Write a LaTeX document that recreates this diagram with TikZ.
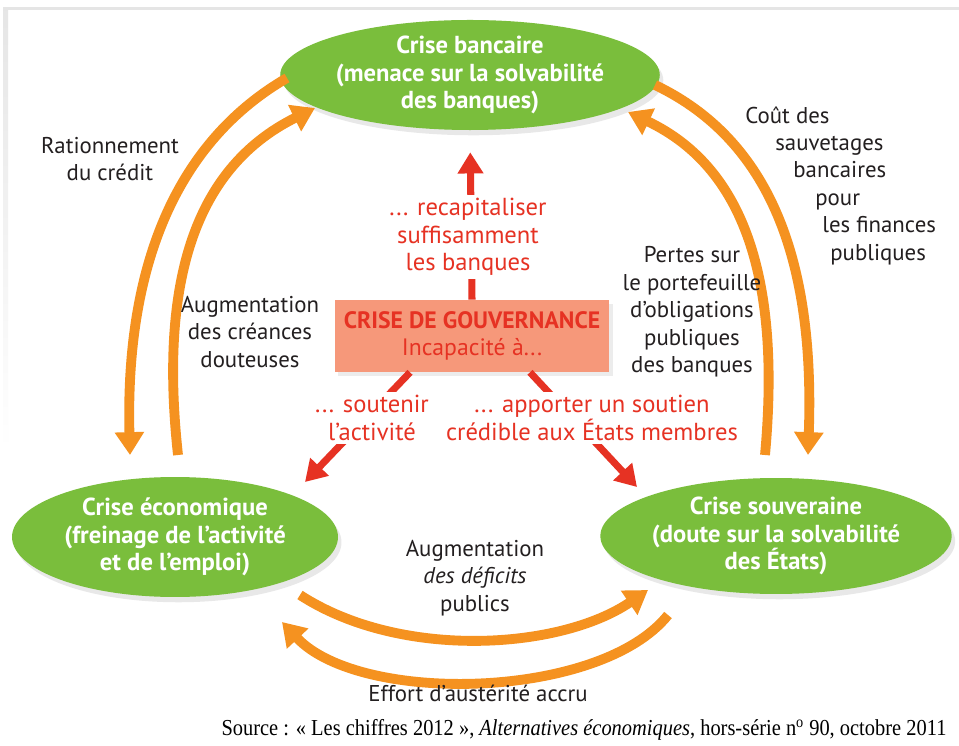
\documentclass[tikz,border=0pt]{standalone}
\usepackage{fontspec}
\setmainfont{PT Sans}
\newfontfamily\sourcefont{Liberation Serif}
\usetikzlibrary{arrows.meta,shapes.geometric,shadows,positioning}

\definecolor{vertcrise}{RGB}{122,190,60}
\definecolor{orangeflux}{RGB}{245,146,32}
\definecolor{rougelien}{RGB}{230,50,35}
\definecolor{saumon}{RGB}{246,152,122}
\definecolor{texte}{RGB}{35,31,32}

\tikzset{
  crise/.style={ellipse, fill=vertcrise, text=white, align=center, inner sep=0pt,
    drop shadow={opacity=0.18, shadow xshift=0.4ex, shadow yshift=-0.6ex},
    font=\bfseries\fontsize{14}{15.6}\selectfont},
  flux/.style={draw=orangeflux, line width=5.6pt, -{Triangle[width=16pt,length=13pt]}},
  lien/.style={draw=rougelien, line width=4pt, -{Triangle[width=14pt,length=12pt]}},
  etiq/.style={text=texte, align=center, font=\fontsize{13}{15.6}\selectfont},
  etiqrouge/.style={text=rougelien, align=center, fill=white, inner sep=2pt,
    font=\fontsize{14}{15.6}\selectfont},
}

\begin{document}
\begin{tikzpicture}[x=0.02cm, y=-0.02cm]
  \useasboundingbox (0,0) rectangle (959,746);
  \fill[white] (0,0) rectangle (959,746);
  % cadre estompe
  \fill[black!10] (3,7) rectangle (959,10);
  \shade[top color=black!10, bottom color=white] (3,10) rectangle (8,450);
  %
  % les trois crises
  \node[crise, minimum width=6.48cm, minimum height=2.12cm] (banc) at (470,75)
    {Crise bancaire\\(menace sur la solvabilité\\des banques)};
  \node[crise, minimum width=6.52cm, minimum height=2.4cm] (eco) at (175,537)
    {Crise économique\\(freinage de l'activité\\et de l'emploi)};
  \node[crise, minimum width=6.66cm, minimum height=2.32cm] (souv) at (776,536)
    {Crise souveraine\\(doute sur la solvabilité\\des États)};
  %
  % crise de gouvernance
  \node[fill=saumon, text=rougelien, minimum width=5.5cm, minimum height=1.44cm,
    drop shadow={opacity=0.15, shadow xshift=0.4ex, shadow yshift=-0.5ex},
    align=center, inner sep=0pt, font=\fontsize{13.5}{15.6}\selectfont] (gouv) at (472,336)
    {\textbf{CRISE DE GOUVERNANCE}\\Incapacité à...};
  \coordinate (pointe-eco) at (305,482);
  \coordinate (pointe-souv) at (637,487);
  \draw[lien, shorten >=0.44cm] (gouv.north) -- (banc.south);
  \draw[lien] ([xshift=-1.24cm]gouv.south) -- (pointe-eco);
  \draw[lien] ([xshift=1.16cm]gouv.south) -- (pointe-souv);
  \node[etiqrouge] (recap) at (468,237) {... recapitaliser\\suffisamment\\les banques};
  \node[etiqrouge] (soutenir) at (372,418) {... soutenir\\l'activité};
  \node[etiqrouge] (apporter) at (592,418) {... apporter un soutien\\crédible aux États membres};
  %
  % boucles banques / economie
  \coordinate (rat-dep) at (287,78);
  \coordinate (rat-arr) at (130,455);
  \coordinate (cre-dep) at (178,455);
  \coordinate (cre-arr) at (315,108);
  \draw[flux] (rat-dep) .. controls (180,140) and (125,260) .. (rat-arr);
  \draw[flux] (cre-dep) .. controls (160,290) and (190,170) .. (cre-arr);
  \node[etiq] (rationnement) at (110,159) {Rationnement\\du crédit};
  \node[etiq] (creances) at (250,332) {Augmentation\\des créances\\douteuses};
  %
  % boucles banques / Etats
  \coordinate (cout-dep) at (655,85);
  \coordinate (cout-arr) at (808,455);
  \coordinate (pert-dep) at (765,455);
  \coordinate (pert-arr) at (628,112);
  \draw[flux] (cout-dep) .. controls (770,140) and (815,260) .. (cout-arr);
  \draw[flux] (pert-dep) .. controls (780,290) and (750,170) .. (pert-arr);
  \node[etiq, align=left, anchor=north west, inner sep=0pt] (cout) at (745,106)
    {Coût des\\\hspace*{0.6cm}sauvetages\\\hspace*{0.96cm}bancaires\\\hspace*{1.4cm}pour\\
     \hspace*{1.54cm}les finances\\\hspace*{1.7cm}publiques};
  \node[etiq] (pertes) at (692,312)
    {Pertes sur\\le portefeuille\\d'obligations\\publiques\\des banques};
  %
  % boucles economie / Etats
  \coordinate (def-dep) at (300,595);
  \coordinate (def-arr) at (648,590);
  \coordinate (aus-dep) at (668,615);
  \coordinate (aus-arr) at (282,622);
  \draw[flux] (def-dep) .. controls (400,660) and (560,650) .. (def-arr);
  \draw[flux] (aus-dep) .. controls (600,700) and (360,705) .. (aus-arr);
  \node[etiq] (deficits) at (475,578) {Augmentation\\\textit{des déficits}\\publics};
  \node[etiq] (austerite) at (478,693) {Effort d'austérité accru};
  %
  \node[font=\sourcefont\fontsize{13}{15}\selectfont, xscale=.895, transform shape] (source) at (584,730)
    {Source : « Les chiffres 2012 », \textit{Alternatives économiques}, hors-série n\textsuperscript{o} 90, octobre 2011};
\end{tikzpicture}
\end{document}
